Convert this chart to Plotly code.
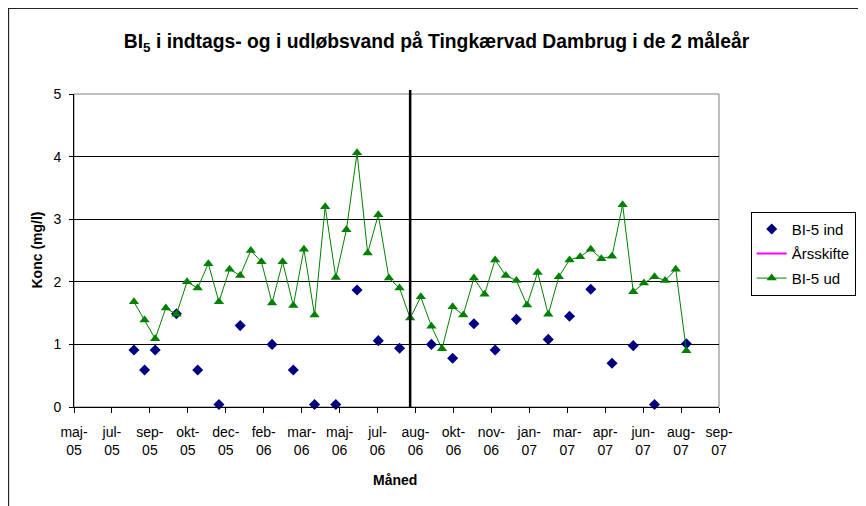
import plotly.graph_objects as go

# ---------------- data ----------------
ud_dates = [
    "2005-08-15", "2005-08-29", "2005-09-12", "2005-09-26", "2005-10-10", "2005-10-24",
    "2005-11-07", "2005-11-21", "2005-12-05", "2005-12-19", "2006-01-02", "2006-01-16",
    "2006-01-30", "2006-02-13", "2006-02-27", "2006-03-13", "2006-03-27", "2006-04-10",
    "2006-04-24", "2006-05-08", "2006-05-22", "2006-06-05", "2006-06-19", "2006-07-03",
    "2006-07-17", "2006-07-31", "2006-08-14", "2006-08-28", "2006-09-11", "2006-09-25",
    "2006-10-09", "2006-10-23", "2006-11-06", "2006-11-20", "2006-12-04", "2006-12-18",
    "2007-01-01", "2007-01-15", "2007-01-29", "2007-02-12", "2007-02-26", "2007-03-12",
    "2007-03-26", "2007-04-09", "2007-04-23", "2007-05-07", "2007-05-21", "2007-06-04",
    "2007-06-18", "2007-07-02", "2007-07-16", "2007-07-30", "2007-08-13",
]
ud_values = [
    1.68, 1.39, 1.09, 1.58, 1.48, 2.00, 1.90, 2.29, 1.68, 2.20,
    2.10, 2.50, 2.32, 1.66, 2.32, 1.62, 2.52, 1.47, 3.20, 2.07,
    2.83, 4.06, 2.46, 3.07, 2.06, 1.90, 1.42, 1.76, 1.29, 0.93,
    1.60, 1.47, 2.06, 1.80, 2.35, 2.10, 2.02, 1.63, 2.15, 1.48,
    2.08, 2.35, 2.40, 2.52, 2.37, 2.41, 3.23, 1.84, 1.98, 2.08,
    2.02, 2.20, 0.90,
]

ind_dates = [
    "2005-08-15", "2005-08-29", "2005-09-12", "2005-10-10", "2005-11-07", "2005-12-05",
    "2006-01-02", "2006-02-13", "2006-03-13", "2006-04-10", "2006-05-08", "2006-06-05",
    "2006-07-03", "2006-07-31", "2006-09-11", "2006-10-09", "2006-11-06", "2006-12-04",
    "2007-01-01", "2007-02-12", "2007-03-12", "2007-04-09", "2007-05-07", "2007-06-04",
    "2007-07-02", "2007-08-13",
]
ind_values = [
    0.91, 0.59, 0.91, 1.49, 0.59, 0.04, 1.30, 1.00, 0.59, 0.04,
    0.04, 1.87, 1.06, 0.94, 1.00, 0.78, 1.33, 0.91, 1.40, 1.08,
    1.45, 1.88, 0.70, 0.98, 0.04, 1.01,
]

aarsskifte_date = "2006-08-14"

tick_dates = [
    "2005-05-28", "2005-07-17", "2005-09-05", "2005-10-25", "2005-12-14", "2006-02-02",
    "2006-03-24", "2006-05-13", "2006-07-02", "2006-08-21", "2006-10-10", "2006-11-29",
    "2007-01-18", "2007-03-09", "2007-04-28", "2007-06-17", "2007-08-06", "2007-09-25",
]
tick_labels = [
    "maj-<br>05", "jul-<br>05", "sep-<br>05", "okt-<br>05", "dec-<br>05", "feb-<br>06",
    "mar-<br>06", "maj-<br>06", "jul-<br>06", "aug-<br>06", "okt-<br>06", "nov-<br>06",
    "jan-<br>07", "mar-<br>07", "apr-<br>07", "jun-<br>07", "aug-<br>07", "sep-<br>07",
]
y_ticks = [0, 1, 2, 3, 4, 5]

FONT = "Liberation Sans, Arial, sans-serif"

# page body adds an 8px offset, so figure coordinates = screen coordinates - 8
W, H = 866, 506
L, T = 66, 86
PW, PH = 645, 312.7
R = W - L - PW
B = H - T - PH
def px(x):
    return (x - 8 - L) / PW
def py(y):
    return (T + PH - (y - 8)) / PH

fig = go.Figure()

fig.add_trace(go.Scatter(
    x=ind_dates, y=ind_values, mode="markers", name="BI-5 ind", legendgroup="a",
    marker=dict(symbol="diamond", size=8.5, color="#000080", line=dict(width=0)),
    cliponaxis=False,
))
# legend-only entry for the year change line
fig.add_trace(go.Scatter(
    x=[None], y=[None], mode="lines", name="Årsskifte", legendgroup="b",
    line=dict(color="#FF00FF", width=2),
))
fig.add_trace(go.Scatter(
    x=ud_dates, y=ud_values, mode="lines+markers", name="BI-5 ud", legendgroup="c",
    line=dict(color="#008000", width=1),
    marker=dict(symbol="triangle-up", size=9, color="#008000", line=dict(width=0)),
    cliponaxis=False,
))

# vertical year-change line
fig.add_shape(type="line", xref="x", yref="paper",
              x0=aarsskifte_date, x1=aarsskifte_date, y0=0, y1=1.013,
              line=dict(color="black", width=2.5), layer="above")

# plot area border (gray)
fig.add_shape(type="rect", xref="paper", yref="paper", x0=0, x1=1, y0=0, y1=1,
              line=dict(color="#808080", width=1), layer="below")

# outer chart frame
fig.add_shape(type="rect", xref="paper", yref="paper",
              x0=px(8.5), x1=px(900), y0=py(540), y1=py(8.5),
              line=dict(color="#222222", width=1.3), layer="below")

fig.update_layout(
    width=W, height=H,
    margin=dict(l=L, r=R, t=T, b=B),
    paper_bgcolor="white", plot_bgcolor="white",
    font=dict(family=FONT, size=14, color="black"),
    title=dict(
        text="<b>BI<sub>5</sub> i indtags- og i udløbsvand på Tingkærvad Dambrug i de 2 måleår</b>",
        x=(436.5 - 8) / W, xref="container", xanchor="center",
        y=1 - (41 - 8) / H, yref="container", yanchor="middle",
        font=dict(family=FONT, size=19.3, color="black"),
    ),
    showlegend=True,
    legend=dict(
        x=px(750.7), y=py(211.7), xanchor="left", yanchor="top",
        bordercolor="black", borderwidth=1, bgcolor="white",
        font=dict(family=FONT, size=15, color="black"),
        traceorder="grouped", tracegroupgap=2,
    ),
    xaxis=dict(
        type="date", range=["2005-05-28", "2007-09-25"],
        tickmode="array", tickvals=tick_dates, ticktext=tick_labels,
        ticks="outside", ticklen=5, tickcolor="black", tickwidth=1,
        showline=True, linecolor="black", linewidth=1,
        showgrid=False, zeroline=False,
        tickfont=dict(family=FONT, size=14, color="black"),
        tickangle=0, ticklabelstandoff=7,
    ),
    yaxis=dict(
        range=[0, 5], tickmode="array", tickvals=y_ticks,
        ticks="outside", ticklen=4, tickcolor="black", tickwidth=1,
        showline=True, linecolor="black", linewidth=1,
        showgrid=True, gridcolor="black", gridwidth=1,
        zeroline=False,
        tickfont=dict(family=FONT, size=14, color="black"),
        ticklabelstandoff=5,
    ),
    annotations=[
        dict(text="<b>Konc (mg/l)</b>", xref="paper", yref="paper",
             x=px(36), y=0.5, xanchor="center", yanchor="middle",
             textangle=-90, showarrow=False,
             font=dict(family=FONT, size=14, color="black")),
        dict(text="<b>Måned</b>", xref="paper", yref="paper",
             x=px(395), y=py(480), xanchor="center", yanchor="middle",
             showarrow=False,
             font=dict(family=FONT, size=14, color="black")),
    ],
)

fig.write_html("out.html")
